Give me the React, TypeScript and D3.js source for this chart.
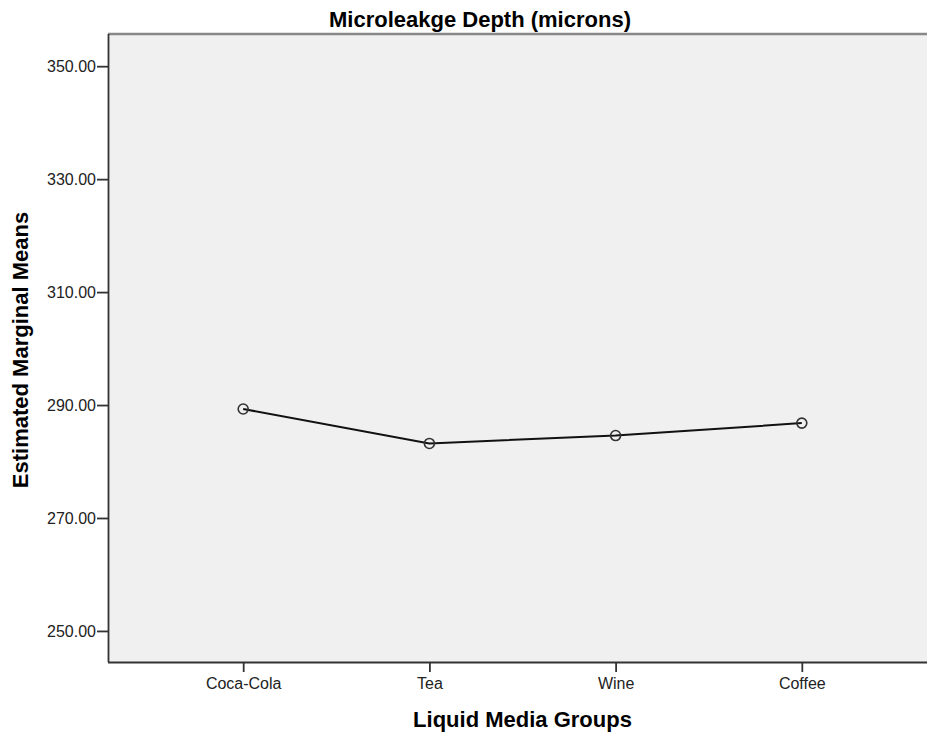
import React, { useRef, useEffect } from "react";
import * as d3 from "d3";

const groups = ["Coca-Cola", "Tea", "Wine", "Coffee"];
const means = [289.3, 283.2, 284.6, 286.8];
const yTicks = [250, 270, 290, 310, 330, 350];

const title = "Microleakge Depth (microns)";
const xTitle = "Liquid Media Groups";
const yTitle = "Estimated Marginal Means";

export default function App() {
    const svgRef = useRef<SVGSVGElement>(null);

    useEffect(() => {
        const width = 927;
        const height = 738;
        const margin = { top: 34, right: -10, bottom: 76, left: 108 };
        const font = "'Liberation Sans', Arial, sans-serif";

        const svg = d3.select(svgRef.current)
            .attr("width", width)
            .attr("height", height);

        svg.selectAll("*").remove();

        const x = d3.scalePoint<string>()
            .domain(groups)
            .range([margin.left, width - margin.right])
            .padding(0.726);

        const y = d3.scaleLinear()
            .domain([244.5, 355.7])
            .range([height - margin.bottom, margin.top]);

        // plot background
        svg.append("rect")
            .attr("x", margin.left)
            .attr("y", margin.top)
            .attr("width", width - margin.left - margin.right)
            .attr("height", height - margin.top - margin.bottom)
            .attr("fill", "#f0f0f0");

        // top frame line
        svg.append("line")
            .attr("x1", margin.left)
            .attr("x2", width)
            .attr("y1", margin.top)
            .attr("y2", margin.top)
            .attr("stroke", "#888")
            .attr("stroke-width", 2.5);

        const yAxis = svg.append("g")
            .attr("transform", `translate(${margin.left},0)`)
            .call(d3.axisLeft(y).tickValues(yTicks).tickFormat(d3.format(".2f")).tickSize(11).tickPadding(1));
        yAxis.select(".domain").attr("stroke", "#333").attr("stroke-width", 1.8)
            .attr("d", `M0.5,${margin.top}V${height - margin.bottom}`);
        yAxis.selectAll("line").attr("stroke", "#333").attr("stroke-width", 1.8);
        yAxis.selectAll("text").attr("fill", "#222").style("font", `16px ${font}`);

        const xAxis = svg.append("g")
            .attr("transform", `translate(0,${height - margin.bottom})`)
            .call(d3.axisBottom(x).tickSize(10).tickPadding(6));
        xAxis.select(".domain").attr("stroke", "#333").attr("stroke-width", 1.8)
            .attr("d", `M${margin.left},0.5H${width}`);
        xAxis.selectAll("line").attr("stroke", "#333").attr("stroke-width", 1.8);
        xAxis.selectAll("text").attr("fill", "#222").style("font", `16px ${font}`);

        const data = groups.map((g, i) => ({ g, v: means[i] }));

        svg.append("path")
            .datum(data)
            .attr("fill", "none")
            .attr("stroke", "#111")
            .attr("stroke-width", 2)
            .attr("d", d3.line<{ g: string; v: number }>()
                .x((d) => x(d.g) as number)
                .y((d) => y(d.v)));

        svg.selectAll(".pt")
            .data(data)
            .enter()
            .append("circle")
            .attr("class", "pt")
            .attr("cx", (d) => x(d.g) as number)
            .attr("cy", (d) => y(d.v))
            .attr("r", 5)
            .attr("fill", "none")
            .attr("stroke", "#333")
            .attr("stroke-width", 1.6);

        svg.append("text")
            .attr("x", 480)
            .attr("y", 27)
            .attr("text-anchor", "middle")
            .style("font", `bold 22px ${font}`)
            .attr("fill", "#000")
            .text(title);

        const mid = ((x(groups[1]) as number) + (x(groups[2]) as number)) / 2;
        svg.append("text")
            .attr("x", mid)
            .attr("y", 727)
            .attr("text-anchor", "middle")
            .style("font", `bold 22px ${font}`)
            .attr("fill", "#000")
            .text(xTitle);

        svg.append("text")
            .attr("transform", `translate(28,${(margin.top + height - margin.bottom) / 2 + 2}) rotate(-90)`)
            .attr("text-anchor", "middle")
            .style("font", `bold 22px ${font}`)
            .attr("fill", "#000")
            .text(yTitle);
    }, []);

    return (
        <div style={{ position: "absolute", left: 0, top: 0, background: "#fff" }}>
            <svg ref={svgRef} style={{ display: "block" }}></svg>
        </div>
    );
}
